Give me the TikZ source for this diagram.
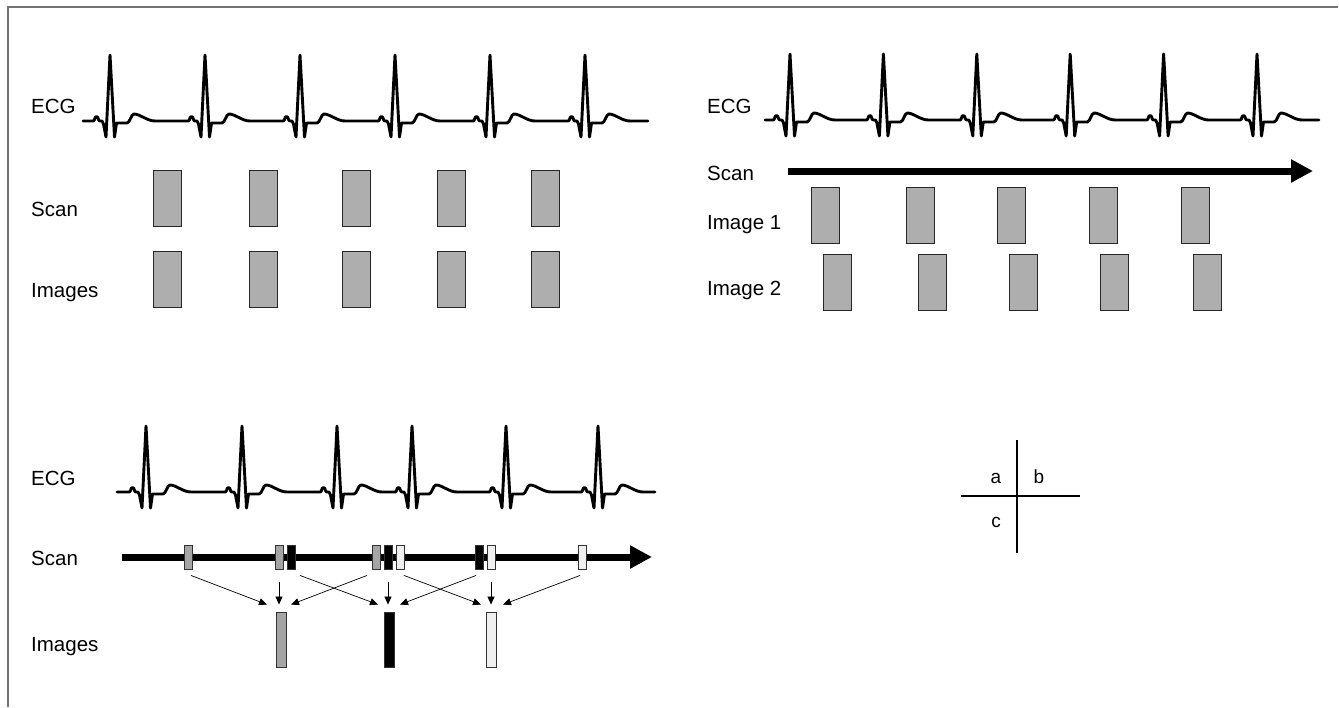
\documentclass[tikz,border=0pt]{standalone}
\usepackage{fontspec}
\setmainfont{Liberation Sans}
\usetikzlibrary{arrows.meta,calc}
\definecolor{boxgray}{RGB}{174,174,174}
\definecolor{bargray}{RGB}{165,165,165}
\definecolor{barlight}{RGB}{240,240,240}
\definecolor{framegray}{RGB}{115,115,115}
\newcommand\ecgline[4]{%
  \draw[ecg] (#1,#3) \foreach \p in {#4} {
    -- (\p-17,#3) to[out=0,in=180] ++(3.5,-4.5) to[out=0,in=180] ++(3.5,4.5)
    -- ++(2,0) -- ++(1.5,3) -- ++(2.5,13) -- ++(4,-82) -- ++(4.5,82) -- ++(2,-14) -- ++(10.5,0)
    .. controls +(3,0) and +(-3,0) .. ++(7,-9)
    .. controls +(6,0) and +(-8,0) .. ++(21,7)
  } -- (#2,#3);}
\begin{document}
\begin{tikzpicture}[x=1pt,y=-1pt,
  lbl/.style={anchor=base west,inner sep=0pt,font=\fontsize{20.5}{24}\selectfont},
  small/.style={anchor=base,inner sep=0pt,font=\fontsize{19}{22}\selectfont},
  ecg/.style={line width=2.9pt,line join=round,line cap=round},
  gbox/.style={draw=black!85,line width=1pt,fill=boxgray,minimum width=28pt,minimum height=56pt,inner sep=0pt},
  sbar/.style={draw=black!80,line width=0.9pt,minimum width=8pt,minimum height=24pt,inner sep=0pt},
  ibar/.style={draw=black!80,line width=0.9pt,minimum width=10pt,minimum height=55pt,inner sep=0pt},
  scanarrow/.style={line width=7pt,-{Triangle[length=22pt,width=22pt]}},
  thinarrow/.style={line width=0.7pt,-{Triangle[length=8pt,width=7pt]}},
]
\useasboundingbox (0,0) rectangle (1339,707);
% frame
\draw[framegray,line width=1.3pt] (8,707) -- (8,7) -- (1338,7);

% ---------- panel a ----------
\node[lbl] (aecg) at (31,113) {ECG};
\node[lbl] (ascan) at (31,216) {Scan};
\node[lbl] (aimg) at (31,297) {Images};
\ecgline{83}{648}{121}{110,205,300,395,490,585}
\foreach \x [count=\i] in {167,263.5,356.5,451,545}{
  \node[gbox] (as\i) at (\x,198) {};
  \node[gbox] (ai\i) at (\x,279) {};
}

% ---------- panel b ----------
\node[lbl] (becg) at (707,113) {ECG};
\node[lbl] (bscan) at (707,180) {Scan};
\node[lbl] (bimg1) at (707,229) {Image 1};
\node[lbl] (bimg2) at (707,295) {Image 2};
\ecgline{765}{1319}{120}{790,883.4,976.8,1070.2,1163.6,1257}
\coordinate (bs0) at (788,171);
\coordinate (bs1) at (1313,171);
\draw[scanarrow] (bs0) -- (bs1);
\foreach \x [count=\i] in {825,920,1011,1103,1195}{
  \node[gbox] (bo\i) at (\x,215) {};
}
\foreach \x [count=\i] in {837,932,1023,1114,1207}{
  \node[gbox] (bt\i) at (\x,282) {};
}

% ---------- panel c ----------
\node[lbl] (cecg) at (31,485) {ECG};
\node[lbl] (cscan) at (31,565) {Scan};
\node[lbl] (cimg) at (31,651) {Images};
\ecgline{117}{655}{492}{146,242,337,412,506,598}
\coordinate (cs0) at (122,557);
\coordinate (cs1) at (652,557);
\draw[scanarrow] (cs0) -- (cs1);
% scan bars
\node[sbar,fill=bargray] (c1) at (188,557) {};
\node[sbar,fill=bargray] (c2) at (279,557) {};
\node[sbar,fill=black]   (c3) at (291,557) {};
\node[sbar,fill=bargray] (c4) at (376,557) {};
\node[sbar,fill=black]   (c5) at (388,557) {};
\node[sbar,fill=barlight](c6) at (400,557) {};
\node[sbar,fill=black]   (c7) at (479,557) {};
\node[sbar,fill=barlight](c8) at (491,557) {};
\node[sbar,fill=barlight](c9) at (582,557) {};
% images
\node[ibar,fill=bargray] (ig) at (281,639.5) {};
\node[ibar,fill=black]   (ib) at (389,639.5) {};
\node[ibar,fill=barlight](il) at (491,639.5) {};
% arrows to gray image
\draw[thinarrow] ($(c1.south)+(3,6)$) -- ($(ig.north)+(-14,-7)$);
\draw[thinarrow] ($(c2.south)+(0,13)$) -- ($(c2.south |- ig.north)+(0,-7)$);
\draw[thinarrow] ($(c4.south)+(-9,6)$) -- ($(ig.north)+(10,-7)$);
% arrows to black image
\draw[thinarrow] ($(c3.south)+(9,6)$) -- ($(ib.north)+(-11,-7)$);
\draw[thinarrow] ($(c5.south)+(0,13)$) -- ($(c5.south |- ib.north)+(0,-7)$);
\draw[thinarrow] ($(c7.south)+(-3,6)$) -- ($(ib.north)+(11,-7)$);
% arrows to light image
\draw[thinarrow] ($(c6.south)+(4,6)$) -- ($(il.north)+(-10,-7)$);
\draw[thinarrow] ($(c8.south)+(0,13)$) -- ($(c8.south |- il.north)+(0,-7)$);
\draw[thinarrow] ($(c9.south)+(-2,6)$) -- ($(il.north)+(12,-7)$);

% ---------- legend cross ----------
\coordinate (vt) at (1017,440);
\coordinate (vb) at (1017,553);
\coordinate (hl) at (961,496);
\coordinate (hr) at (1080,496);
\draw[line width=1.1pt] (vt) -- (vb);
\draw[line width=1.1pt] (hl) -- (hr);
\node[small] (la) at (996,483) {a};
\node[small] (lb) at (1039,483) {b};
\node[small] (lc) at (996,527) {c};
\end{tikzpicture}
\end{document}
